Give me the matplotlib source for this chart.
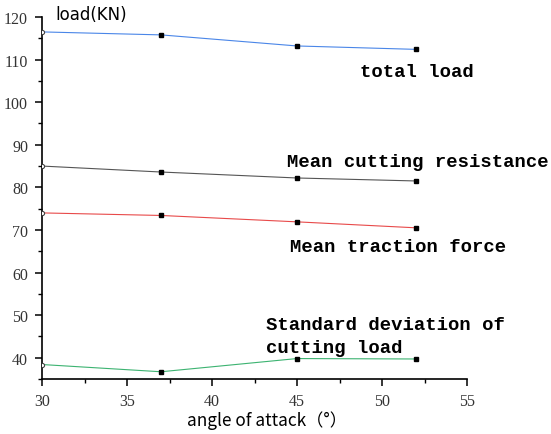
import matplotlib
matplotlib.use("Agg")
import matplotlib.pyplot as plt
from matplotlib.ticker import MultipleLocator

angles = [30, 37, 45, 52]
total_load = [116.5, 115.8, 113.2, 112.4]
mean_cutting = [85.0, 83.6, 82.2, 81.5]
mean_traction = [74.0, 73.4, 71.9, 70.5]
std_dev = [38.4, 36.7, 39.8, 39.7]

series = [
    (total_load, "#4a86e8"),
    (mean_cutting, "#555555"),
    (mean_traction, "#e84a4a"),
    (std_dev, "#3cb371"),
]

fig = plt.figure(figsize=(5.51, 4.35), dpi=100)
ax = fig.add_axes([42/551, 1-380/435, (467-42)/551, (380-18)/435])

for vals, col in series:
    ax.plot(angles, vals, color=col, lw=0.8, zorder=2)
    ax.plot(angles[1:], vals[1:], ls='none', marker='s', ms=3, color='black', zorder=3)
    ax.plot(angles[:1], vals[:1], ls='none', marker='o', ms=3, mfc='white', mec='#444444', mew=0.8, zorder=3)

ax.set_xlim(30, 55)
ax.set_ylim(35, 120)
ax.xaxis.set_major_locator(MultipleLocator(5))
ax.xaxis.set_minor_locator(MultipleLocator(2.5))
ax.yaxis.set_major_locator(MultipleLocator(10))
ax.yaxis.set_minor_locator(MultipleLocator(5))
for s in ['top', 'right']:
    ax.spines[s].set_visible(False)
for s in ['left', 'bottom']:
    ax.spines[s].set_linewidth(1.2)
ax.tick_params(which='major', direction='out', length=5, width=1.1, labelsize=11.5, pad=5)
ax.tick_params(which='minor', direction='out', length=3, width=1.0)
for lab in ax.get_xticklabels() + ax.get_yticklabels():
    lab.set_fontfamily('Liberation Serif')
    lab.set_color('#333333')

fig.text(267/551, 1-421/435, "angle of attack（°）", fontsize=12.4,
         family=['Noto Sans CJK SC', 'DejaVu Sans'], ha='center', va='center')
fig.text(55/551, 1-15/435, "load(KN)", fontsize=12, family='DejaVu Sans', va='center', ha='left')

tfont = dict(family='Liberation Mono', fontweight='bold', fontsize=13.6, va='center', ha='left', color='black')
ax.text(48.7, 107.1, "total load", **tfont)
ax.text(44.4, 86.0, "Mean cutting resistance", **tfont)
ax.text(44.6, 66.0, "Mean traction force", **tfont)
ax.text(43.2, 47.9, "Standard deviation of", **tfont)
ax.text(43.2, 42.5, "cutting load", **tfont)

fig.savefig("out.png", dpi=100)
